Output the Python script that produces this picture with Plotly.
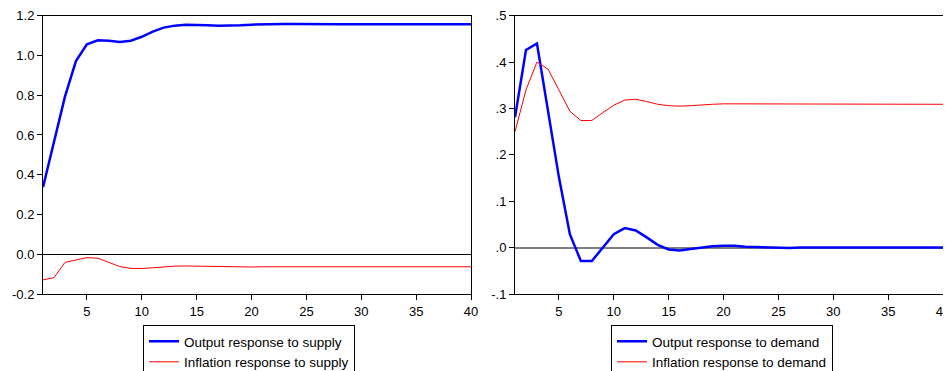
import plotly.graph_objects as go

periods = list(range(1, 41))

output_supply = [0.337, 0.56, 0.793, 0.972, 1.056, 1.076, 1.074, 1.068, 1.074, 1.094,
                 1.12, 1.14, 1.15, 1.155, 1.155, 1.152, 1.15, 1.15, 1.152, 1.155,
                 1.157, 1.158, 1.158, 1.158, 1.157, 1.157, 1.157, 1.157, 1.157, 1.157,
                 1.157, 1.157, 1.157, 1.157, 1.157, 1.157, 1.157, 1.157, 1.157, 1.157]
inflation_supply = [-0.129, -0.118, -0.041, -0.029, -0.017, -0.020, -0.042, -0.062, -0.071, -0.072,
                    -0.068, -0.063, -0.060, -0.059, -0.060, -0.062, -0.063, -0.064, -0.064, -0.064,
                    -0.063, -0.063, -0.063, -0.063, -0.063, -0.063, -0.063, -0.063, -0.063, -0.063,
                    -0.063, -0.063, -0.063, -0.063, -0.063, -0.063, -0.063, -0.063, -0.063, -0.063]
output_demand = [0.281, 0.426, 0.440, 0.300, 0.152, 0.029, -0.029, -0.029, 0.000, 0.029,
                 0.042, 0.037, 0.022, 0.006, -0.004, -0.006, -0.003, 0.000, 0.003, 0.004,
                 0.004, 0.002, 0.001, 0.000, -0.001, -0.001, 0.000, 0.000, 0.000, 0.000,
                 0.000, 0.000, 0.000, 0.000, 0.000, 0.000, 0.000, 0.000, 0.000, 0.000]
inflation_demand = [0.250, 0.340, 0.400, 0.385, 0.340, 0.294, 0.274, 0.274, 0.291, 0.307,
                    0.318, 0.320, 0.315, 0.309, 0.306, 0.305, 0.306, 0.308, 0.309, 0.310,
                    0.310, 0.310, 0.309, 0.309, 0.309, 0.309, 0.310, 0.310, 0.310, 0.310,
                    0.309, 0.309, 0.309, 0.309, 0.309, 0.309, 0.309, 0.309, 0.309, 0.309]

x_ticks = [5, 10, 15, 20, 25, 30, 35, 40]
left_yticks = [-0.2, 0.0, 0.2, 0.4, 0.6, 0.8, 1.0, 1.2]
left_ylabels = ["-0.2", "0.0", "0.2", "0.4", "0.6", "0.8", "1.0", "1.2"]
right_yticks = [-0.1, 0.0, 0.1, 0.2, 0.3, 0.4, 0.5]
right_ylabels = ["-.1", ".0", ".1", ".2", ".3", ".4", ".5"]

BLUE = "#0000FF"
RED = "#FF0000"

OFF = 8  # page body margin offset
W, H = 951 - OFF, 371 - OFF


def px_x(v):
    return (v - OFF) / W


def px_y(v):
    return 1 - (v - OFF) / H


fig = go.Figure()
fig.add_trace(go.Scatter(x=periods, y=output_supply, mode="lines", name="Output response to supply",
                         line=dict(color=BLUE, width=2.5), xaxis="x", yaxis="y", legend="legend"))
fig.add_trace(go.Scatter(x=periods, y=inflation_supply, mode="lines", name="Inflation response to supply",
                         line=dict(color=RED, width=1), xaxis="x", yaxis="y", legend="legend"))
fig.add_trace(go.Scatter(x=periods, y=output_demand, mode="lines", name="Output response to demand",
                         line=dict(color=BLUE, width=2.5), xaxis="x2", yaxis="y2", legend="legend2"))
fig.add_trace(go.Scatter(x=periods, y=inflation_demand, mode="lines", name="Inflation response to demand",
                         line=dict(color=RED, width=1), xaxis="x2", yaxis="y2", legend="legend2"))

SANS = "Liberation Sans, Arial, sans-serif"
tfont = dict(family=SANS, size=13, color="black")

common_x = dict(range=[1, 40], tickvals=x_ticks, ticks="outside", ticklen=5, tickcolor="black",
                showline=True, linecolor="black", linewidth=1, mirror=True, showgrid=False,
                zeroline=False, tickfont=tfont, automargin=False, ticklabeloverflow="allow")
common_y = dict(ticks="outside", ticklen=5, tickcolor="black", showline=True, linecolor="black",
                linewidth=1, mirror=True, showgrid=False, tickfont=tfont, automargin=False)

legend_common = dict(bordercolor="black", borderwidth=1, bgcolor="white",
                     font=dict(family=SANS, size=13.5, color="black"),
                     xanchor="left", yanchor="top", tracegroupgap=0, itemwidth=30)

fig.update_layout(
    template="none",
    width=W, height=H,
    margin=dict(l=0, r=0, t=0, b=0, autoexpand=False),
    paper_bgcolor="white", plot_bgcolor="white",
    xaxis=dict(domain=[px_x(43), px_x(471)], anchor="y", **common_x),
    yaxis=dict(domain=[px_y(294), px_y(15.7)], anchor="x", range=[-0.2, 1.2],
               tickvals=left_yticks, ticktext=left_ylabels, zeroline=True,
               zerolinecolor="black", zerolinewidth=1, **common_y),
    xaxis2=dict(domain=[px_x(515), px_x(943)], anchor="y2", **common_x),
    yaxis2=dict(domain=[px_y(294), px_y(15.7)], anchor="x2", range=[-0.1, 0.5],
                tickvals=right_yticks, ticktext=right_ylabels, zeroline=True,
                zerolinecolor="#808080", zerolinewidth=1.5, **common_y),
    legend=dict(x=px_x(143), y=px_y(325), **legend_common),
    legend2=dict(x=px_x(611), y=px_y(325), **legend_common),
    showlegend=True,
)

fig.write_html("out.html")
